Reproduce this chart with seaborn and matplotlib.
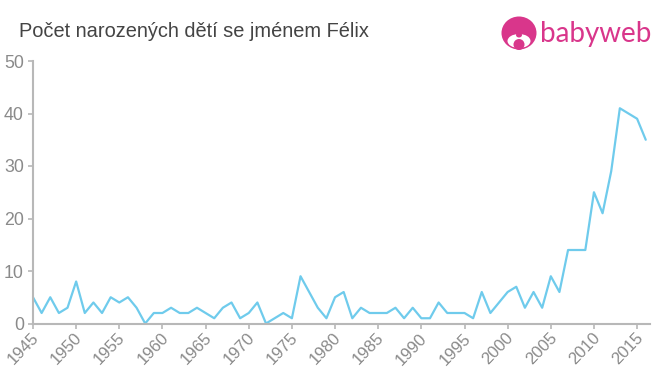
import matplotlib
matplotlib.use("Agg")
import matplotlib.pyplot as plt
from matplotlib.patches import Circle, Ellipse
from matplotlib.transforms import ScaledTranslation
import seaborn as sns
import pandas as pd

years = list(range(1945, 2017))
births = [5,2,5,2,3,8,2,4,2,5,4,5,3,0,2,2,3,2,2,3,2,1,3,4,1,2,4,0,1,2,1,9,6,3,1,5,6,1,3,2,2,2,3,1,3,1,1,4,2,2,2,1,6,2,4,6,7,3,6,3,9,6,14,14,14,25,21,29,41,40,39,35]
x_ticks = list(range(1945, 2016, 5))
y_ticks = [0, 10, 20, 30, 40, 50]
title = "Počet narozených dětí se jménem Félix"
logo_text = "babyweb"

LINE = "#6fcbec"; AXIS = "#b8b8b8"; TICK = "#8a8a8a"; TITLE = "#444444"; PINK = "#d9368b"
W, H = 660, 375

sns.set_theme(style="white")
plt.rcParams["font.family"] = ["Liberation Sans", "DejaVu Sans"]

fig = plt.figure(figsize=(W/100, H/100), dpi=100)
ax = fig.add_axes([33/W, 1-323.5/H, (650-33)/W, (323.5-61)/H])
df = pd.DataFrame({"year": years, "births": births})
sns.lineplot(data=df, x="year", y="births", color=LINE, linewidth=1.6, ax=ax, clip_on=False)

ax.set_xlim(1945, 1945 + (650-33)/8.63)
ax.set_ylim(0, 50)
ax.set_xlabel(""); ax.set_ylabel("")
ax.set_xticks(x_ticks); ax.set_yticks(y_ticks)
ax.set_xticklabels([str(v) for v in x_ticks], rotation=46, ha="right", rotation_mode="anchor")
ax.tick_params(axis="x", colors=TICK, labelsize=12, length=3.5, width=1.2, color=AXIS, pad=1.5, bottom=True)
ax.tick_params(axis="y", colors=TICK, labelsize=12.8, length=3.5, width=1.2, color=AXIS, pad=3, left=True)
shift = ScaledTranslation(-2/100, 0, fig.dpi_scale_trans)
for label in ax.get_xticklabels():
    label.set_transform(label.get_transform() + shift)
for s in ("top", "right"):
    ax.spines[s].set_visible(False)
for s in ("left", "bottom"):
    ax.spines[s].set_color(AXIS); ax.spines[s].set_linewidth(1.5)
ax.grid(False)

fig.text(19/W, 1-37/H, title, fontsize=14.45, color=TITLE, ha="left", va="baseline")

# logo
lax = fig.add_axes([0, 0, 1, 1]); lax.set_xlim(0, W); lax.set_ylim(H, 0); lax.axis("off"); lax.patch.set_alpha(0)
lax.add_patch(Ellipse((519, 33), 35, 33, color=PINK, lw=0))
lax.add_patch(Ellipse((519, 41), 23, 14, color="white", lw=0))
lax.add_patch(Ellipse((519, 35), 6, 5, color=PINK, lw=0))
lax.add_patch(Circle((519, 44.5), 5.5, color=PINK, lw=0))
lax.text(540, 42, logo_text, fontsize=20, color=PINK, family="Lato", ha="left", va="baseline")

fig.savefig("out.png", dpi=100, facecolor="white")
